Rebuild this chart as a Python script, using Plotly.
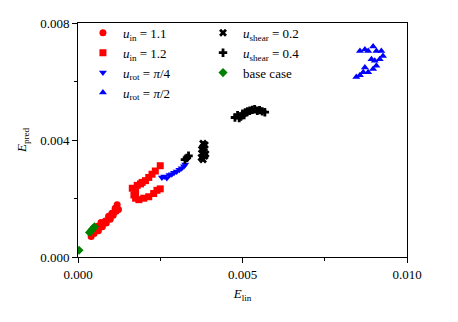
import plotly.graph_objects as go

# u_in = 1.1 (circles)
uin11_x = [0.00040, 0.00049, 0.00052, 0.00062, 0.00063, 0.00073, 0.00074, 0.00083, 0.00086, 0.00093,
           0.00098, 0.00103, 0.00107, 0.00113, 0.00116, 0.00119, 0.00123, 0.00060, 0.00070]
uin11_y = [0.00070, 0.00080, 0.00090, 0.00090, 0.00101, 0.00112, 0.00103, 0.00123, 0.00116, 0.00139,
           0.00129, 0.00150, 0.00143, 0.00167, 0.00156, 0.00179, 0.00162, 0.00105, 0.00118]
# u_in = 1.2 (squares)
uin12_x = [0.00250, 0.00235, 0.00225, 0.00215, 0.00205, 0.00190, 0.00180, 0.00175, 0.00170, 0.00175,
           0.00185, 0.00200, 0.00215, 0.00230, 0.00240, 0.00250, 0.00195, 0.00165]
uin12_y = [0.00312, 0.00294, 0.00283, 0.00272, 0.00261, 0.00250, 0.00245, 0.00223, 0.00212, 0.00201,
           0.00196, 0.00201, 0.00206, 0.00217, 0.00228, 0.00233, 0.00255, 0.00235]
# u_rot = pi/4 (down triangles)
rot4_x = [0.00255, 0.00262, 0.00270, 0.00278, 0.00285, 0.00292, 0.00300, 0.00308, 0.00315, 0.00322, 0.00326]
rot4_y = [0.00272, 0.00275, 0.00270, 0.00280, 0.00283, 0.00288, 0.00292, 0.00298, 0.00303, 0.00310, 0.00316]
# u_rot = pi/2 (up triangles)
rot2_x = [0.00857, 0.00872, 0.00882, 0.00897, 0.00907, 0.00922, 0.00927, 0.00917, 0.00902, 0.00907,
          0.00897, 0.00872, 0.00867, 0.00857, 0.00846, 0.00882, 0.00892]
rot2_y = [0.00704, 0.00709, 0.00704, 0.00720, 0.00704, 0.00704, 0.00687, 0.00676, 0.00671, 0.00654,
          0.00643, 0.00648, 0.00632, 0.00621, 0.00615, 0.00632, 0.00676]
# u_shear = 0.2 (X)
sh2_x = [0.00375, 0.00380, 0.00385, 0.00378, 0.00383, 0.00388, 0.00376, 0.00382, 0.00386, 0.00380]
sh2_y = [0.00340, 0.00333, 0.00345, 0.00355, 0.00360, 0.00352, 0.00368, 0.00375, 0.00383, 0.00388]
# u_shear = 0.4 (plus)
sh4_x = [0.00325, 0.00331, 0.00336, 0.00477, 0.00485, 0.00495, 0.00500, 0.00508, 0.00515, 0.00522,
         0.00530, 0.00537, 0.00545, 0.00552, 0.00560, 0.00568, 0.00490, 0.00505]
sh4_y = [0.00333, 0.00339, 0.00346, 0.00477, 0.00485, 0.00480, 0.00490, 0.00494, 0.00498, 0.00500,
         0.00503, 0.00505, 0.00500, 0.00502, 0.00498, 0.00495, 0.00475, 0.00485]
# base case (diamonds)
base_x = [0.00003, 0.00035, 0.00040, 0.00045, 0.00050]
base_y = [0.00023, 0.00084, 0.00090, 0.00097, 0.00103]

fig = go.Figure()
ms = 7
def add(x, y, name, sym, col, leg):
    fig.add_trace(go.Scatter(x=x, y=y, mode="markers", name=name, legend=leg,
                             marker=dict(symbol=sym, color=col, size=ms, line=dict(width=0))))

add(uin11_x, uin11_y, "<i>u</i><sub>in</sub> = 1.1", "circle", "red", "legend")
add(uin12_x, uin12_y, "<i>u</i><sub>in</sub> = 1.2", "square", "red", "legend")
add(rot4_x, rot4_y, "<i>u</i><sub>rot</sub> = <i>π</i>/4", "triangle-down", "blue", "legend")
add(rot2_x, rot2_y, "<i>u</i><sub>rot</sub> = <i>π</i>/2", "triangle-up", "blue", "legend")
add(sh2_x, sh2_y, "<i>u</i><sub>shear</sub> = 0.2", "x", "black", "legend2")
add(sh4_x, sh4_y, "<i>u</i><sub>shear</sub> = 0.4", "cross", "black", "legend2")
add(base_x, base_y, "base case", "diamond", "green", "legend2")

font = dict(family="Times New Roman", size=13, color="black")
legcommon = dict(bgcolor="rgba(0,0,0,0)", font=font, xanchor="left", yanchor="top",
                 tracegroupgap=0, itemwidth=30)
fig.update_layout(
    width=458, height=322,
    margin=dict(l=70, r=59, t=8, b=73),
    plot_bgcolor="white", paper_bgcolor="white",
    font=font,
    legend=dict(x=0.015, y=1.022, **legcommon),
    legend2=dict(x=0.38, y=1.022, **legcommon),
)
axis_common = dict(showgrid=False, zeroline=False, showline=True, linecolor="black", linewidth=1,
                   mirror=True, ticks="outside", ticklen=5, tickcolor="black", tickwidth=1,
                   tickfont=font)
fig.update_xaxes(range=[0, 0.010], dtick=0.005, tick0=0, tickformat=".3f",
                 minor=dict(ticks="outside", ticklen=3, dtick=0.0025, tickcolor="black"),
                 title=dict(text="<i>E</i><sub>lin</sub>", font=font, standoff=8), **axis_common)
fig.update_yaxes(range=[0, 0.008], dtick=0.004, tick0=0, tickformat=".3f",
                 minor=dict(ticks="outside", ticklen=3, dtick=0.002, tickcolor="black"),
                 title=dict(text="<i>E</i><sub>pred</sub>", font=font, standoff=10), **axis_common)

fig.write_html("out.html")
